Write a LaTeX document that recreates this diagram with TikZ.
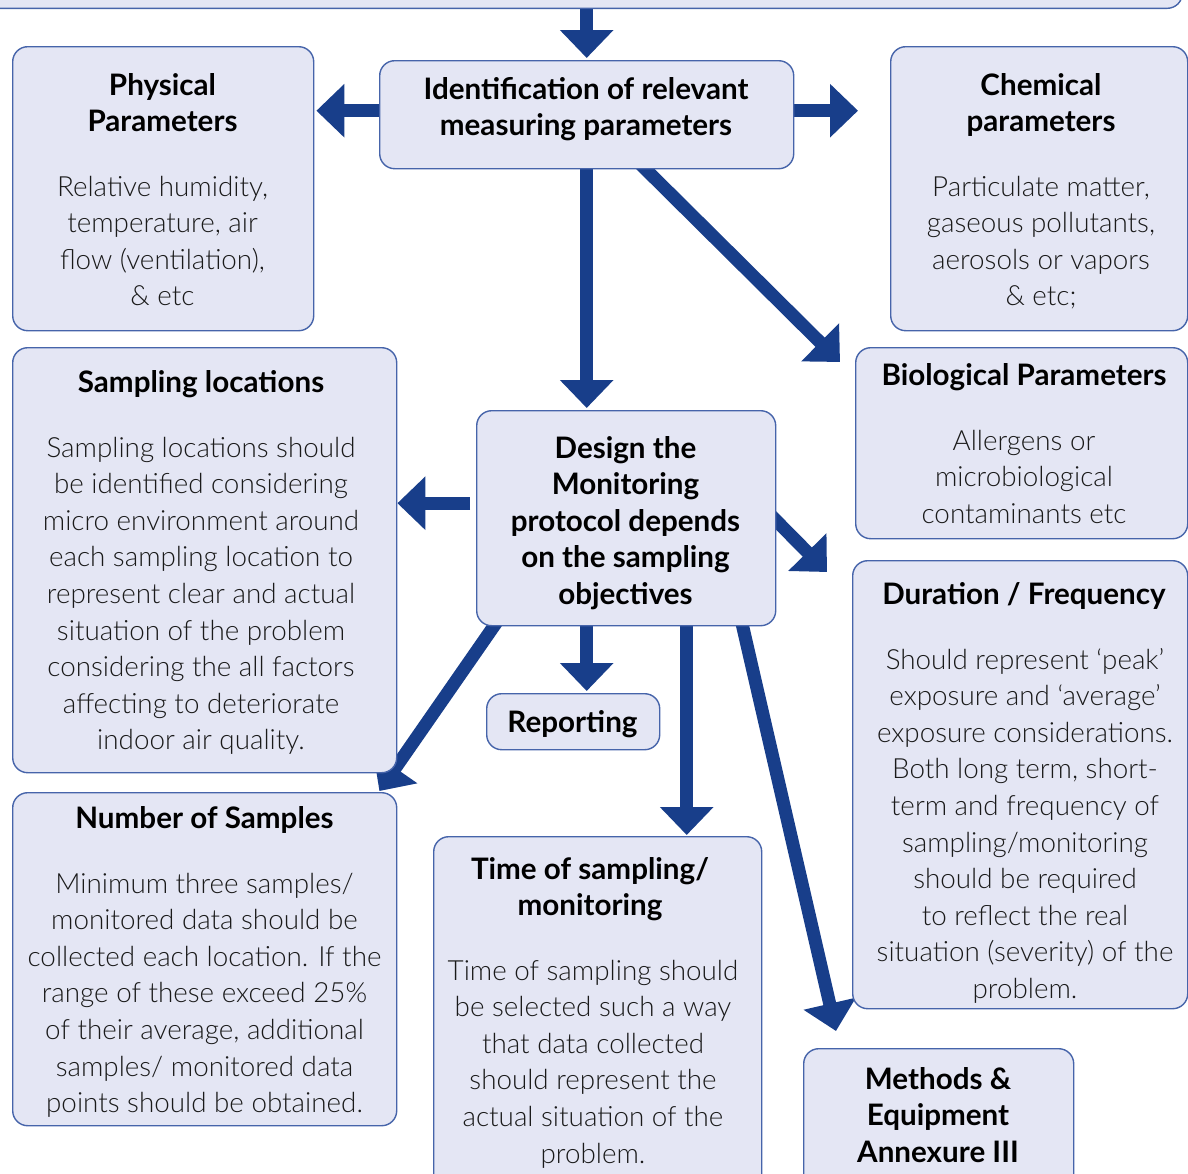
\documentclass[tikz,border=0pt]{standalone}
\usepackage{fontspec}
\setmainfont{Lato}
\newfontfamily\lightfont{Lato Light}
\usetikzlibrary{arrows.meta,calc}
\definecolor{boxf}{RGB}{228,230,244}
\definecolor{bordc}{RGB}{70,100,170}
\definecolor{arrc}{RGB}{24,62,138}
\definecolor{txtc}{RGB}{26,26,26}
\newcommand\tl[1]{\begin{tabular}[t]{@{}c@{}}#1\end{tabular}}
\pgfdeclarelayer{bg}
\pgfsetlayers{bg,main}
\tikzset{
  box/.style={draw=bordc, line width=1.4pt, fill=boxf, rounded corners=15pt, inner sep=0pt, anchor=north west},
  ttl/.style={font=\bfseries\fontsize{29.6}{36.6}\selectfont, anchor=base, inner sep=0pt, text=black},
  bdy/.style={font=\lightfont\fontsize{27.8}{36.6}\selectfont, anchor=base, inner sep=0pt, text=txtc},
  arr/.style={draw=arrc, line width=13pt, -{Triangle[width=52pt,length=28pt]}},
}
\begin{document}
\begin{tikzpicture}[x=1pt,y=-1pt]
\useasboundingbox (0,0) rectangle (1188,1173);
\clip (0,0) rectangle (1188,1173);
% boxes
\node[box, minimum width=1250pt, minimum height=80pt, anchor=south east] (top) at (1183,9) {};
\node[box, minimum width=301pt, minimum height=284pt] (phys) at (12,46) {};
\node[box, minimum width=414pt, minimum height=108pt] (ident) at (379,60) {};
\node[box, minimum width=297pt, minimum height=284pt] (chem) at (890,46) {};
\node[box, minimum width=384pt, minimum height=425pt] (samp) at (12,347) {};
\node[box, minimum width=332pt, minimum height=191pt] (bio) at (855,347) {};
\node[box, minimum width=299pt, minimum height=215pt] (design) at (476,410) {};
\node[box, minimum width=335pt, minimum height=448pt] (dur) at (852,560) {};
\node[box, minimum width=173pt, minimum height=56pt] (rep) at (486,693) {};
\node[box, minimum width=384pt, minimum height=333pt] (num) at (12,792) {};
\node[box, minimum width=328pt, minimum height=360pt] (time) at (433,836) {};
\node[box, minimum width=270pt, minimum height=150pt] (meth) at (803,1048) {};
% texts
\node[ttl] (physT) at (162.5,95) {\tl{Physical\\Parameters}};
\node[bdy] (physB) at (162.5,196) {\tl{Relative humidity,\\temperature, air\\flow (ventilation),\\\& etc}};
\node[ttl] (identT) at (586,99) {\tl{Identification of relevant\\measuring parameters}};
\node[ttl] (chemT) at (1041,95) {\tl{Chemical\\parameters}};
\node[bdy] (chemB) at (1041,196) {\tl{Particulate matter,\\gaseous pollutants,\\aerosols or vapors\\\& etc;}};
\node[ttl] (sampT) at (201,392) {\tl{Sampling locations}};
\node[bdy] (sampB) at (201,457) {\tl{Sampling locations should\\be identified considering\\micro environment around\\each sampling location to\\represent clear and actual\\situation of the problem\\considering the all factors\\affecting to deteriorate\\indoor air quality.}};
\node[ttl] (bioT) at (1024,385) {\tl{Biological Parameters}};
\node[bdy] (bioB) at (1024,450) {\tl{Allergens or\\microbiological\\contaminants etc}};
\node[ttl] (designT) at (625.5,458) {\tl{Design the\\Monitoring\\protocol depends\\on the sampling\\objectives}};
\node[ttl] (durT) at (1024,604) {\tl{Duration / Frequency}};
\node[bdy] (durB) at (1025,669) {\tl{Should represent ‘peak’\\exposure and ‘average’\\exposure considerations.\\Both long term, short-\\term and frequency of\\sampling/monitoring\\should be required\\to reflect the real\\situation (severity) of the\\problem.}};
\node[ttl] (repT) at (572.5,732) {\tl{Reporting}};
\node[ttl] (numT) at (204.5,828) {\tl{Number of Samples}};
\node[bdy] (numB) at (204.5,893) {\tl{Minimum three samples/\\monitored data should be\\collected each location. If the\\range of these exceed 25\%\\of their average, additional\\samples/ monitored data\\points should be obtained.}};
\node[ttl] (timeT) at (590,879) {\tl{Time of sampling/\\monitoring}};
\node[bdy] (timeB) at (593,980) {\tl{Time of sampling should\\be selected such a way\\that data collected\\should represent the\\actual situation of the\\problem.}};
\node[ttl] (methT) at (938,1089) {\tl{Methods \&\\Equipment\\Annexure III}};
% arrows
\begin{pgfonlayer}{bg}
\draw[arr, shorten >=2pt] (top.south -| ident.north) -- (ident.north);
\draw[arr, shorten >=2pt] ([yshift=4pt]ident.west) -- ([yshift=4pt]ident.west -| phys.east);
\draw[arr, shorten >=32pt] ([yshift=4pt]ident.east) -- ([yshift=4pt]ident.east -| chem.west);
\draw[arr, shorten >=2pt] (ident.south) -- (ident.south |- design.north);
\draw[arr] ([xshift=52pt,yshift=7pt]ident.south) -- ([xshift=-15pt,yshift=-15pt]bio.north west);
\draw[arr] ([xshift=-6pt,yshift=15pt]design.west) -- ([yshift=15pt]design.west -| samp.east);
\draw[arr] ([xshift=-7pt,yshift=4.5pt]design.east) -- ([xshift=-25pt,yshift=-12pt]dur.north west);
\draw[arr, shorten >=2pt] ([xshift=-39.5pt]design.south) -- ([xshift=-39.5pt]design.south |- rep.north);
\draw[arr, shorten >=1pt] ([xshift=60.5pt]design.south) -- ([xshift=60.5pt]design.south |- time.north);
\draw[arr] ([xshift=-126.8pt,yshift=8.2pt]design.south) -- ([xshift=-18pt,yshift=1pt]num.north east);
\draw[arr] ([xshift=114.25pt,yshift=9.7pt]design.south) -- ([xshift=33pt,yshift=17pt]meth.north west);
\end{pgfonlayer}
\end{tikzpicture}
\end{document}
